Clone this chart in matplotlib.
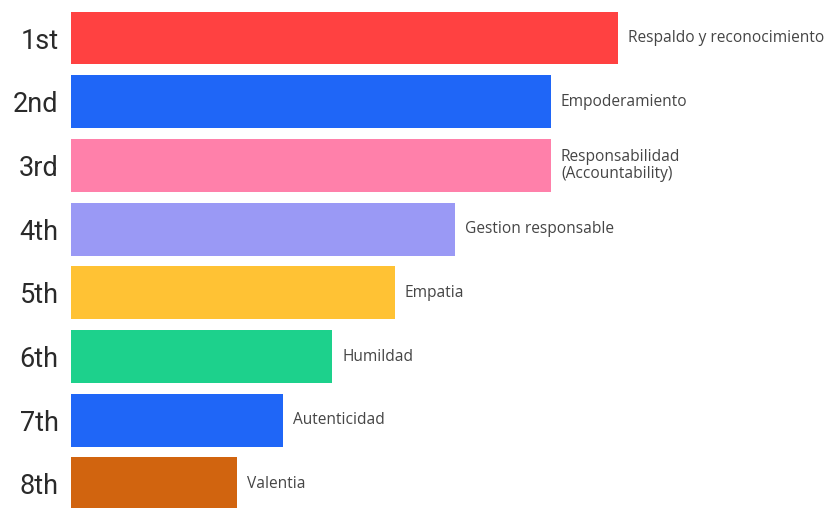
import matplotlib.pyplot as plt

ranks = ['1st', '2nd', '3rd', '4th', '5th', '6th', '7th', '8th']
labels = ['Respaldo y reconocimiento', 'Empoderamiento', 'Responsabilidad\n(Accountability)',
          'Gestion responsable', 'Empatia', 'Humildad', 'Autenticidad', 'Valentia']
values = [547, 480, 480, 384, 324, 261, 212, 166]
colors = ['#FF4141', '#1F66F7', '#FF80AA', '#9A99F5', '#FFC234', '#1DD18C', '#1F66F7', '#D1640F']

fig = plt.figure(figsize=(8.35, 5.08), dpi=100)
ax = fig.add_axes([71 / 835, 0, 764 / 835, 1])

pos = list(range(len(ranks)))
ax.barh(pos, values, height=0.83, color=colors)
for i, (v, lab) in enumerate(zip(values, labels)):
    ax.text(v + 10, i, lab, va='center', ha='left', fontsize=11.2,
            family='Open Sans', color='#454545', linespacing=1.1)

ax.set_yticks(pos)
ax.set_yticklabels(ranks, fontsize=19.5, family='Roboto', color='#2a2a2a')
ax.tick_params(axis='y', length=0, pad=9)
ax.set_xticks([])
ax.set_xlim(0, 764)
ax.set_ylim(7.378, -0.597)
for s in ax.spines.values():
    s.set_visible(False)

fig.savefig('out.png', dpi=100)
